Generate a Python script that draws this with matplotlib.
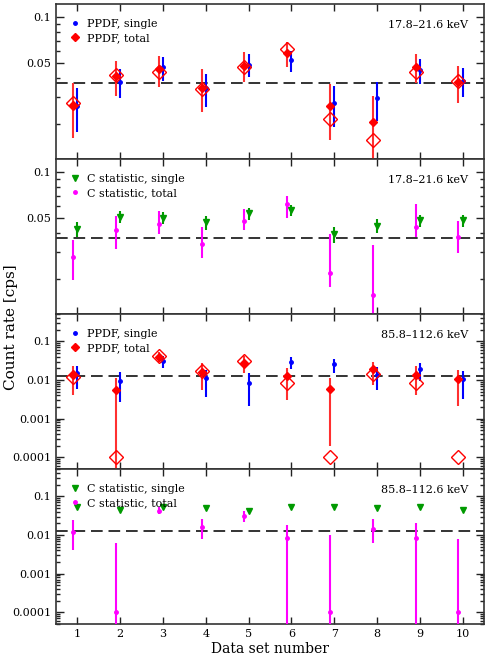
import numpy as np
import matplotlib
matplotlib.use('Agg')
import matplotlib.pyplot as plt
from matplotlib.lines import Line2D
from matplotlib.ticker import LogLocator, NullFormatter

plt.rcParams['font.family'] = ['DejaVu Serif', 'DejaVu Sans']

sets = np.arange(1, 11)

# 17.8-21.6 keV, PPDF
ppdf_single_lo = [0.0263, 0.0378, 0.0469, 0.0343, 0.0490, 0.0523, 0.0275, 0.0294, 0.0453, 0.0385]
ppdf_single_lo_min = [0.0177, 0.0295, 0.0384, 0.0258, 0.0405, 0.0440, 0.0190, 0.0208, 0.0368, 0.0300]
ppdf_single_lo_max = [0.0345, 0.0461, 0.0551, 0.0428, 0.0576, 0.0605, 0.0357, 0.0376, 0.0534, 0.0467]
ppdf_total_lo = [0.0267, 0.0411, 0.0455, 0.0345, 0.0481, 0.0585, 0.0261, 0.0207, 0.0474, 0.0379]
ppdf_total_lo_min = [0.0163, 0.0304, 0.0348, 0.0239, 0.0376, 0.0474, 0.0156, 0.0100, 0.0370, 0.0274]
ppdf_total_lo_max = [0.0372, 0.0519, 0.0561, 0.0455, 0.0588, 0.0686, 0.0363, 0.0306, 0.0578, 0.0481]
ppdf_open_lo = [0.0275, 0.0417, 0.0440, 0.0338, 0.0474, 0.0621, 0.0217, 0.0158, 0.0440, 0.0383]

# 17.8-21.6 keV, C statistic
cstat_single_lo = [0.0424, 0.0506, 0.0501, 0.0469, 0.0540, 0.0569, 0.0394, 0.0446, 0.0486, 0.0489]
cstat_single_lo_min = [0.0376, 0.0465, 0.0457, 0.0420, 0.0489, 0.0513, 0.0346, 0.0397, 0.0435, 0.0435]
cstat_single_lo_max = [0.0469, 0.0560, 0.0549, 0.0513, 0.0583, 0.0612, 0.0437, 0.0493, 0.0527, 0.0527]
cstat_total_lo = [0.0277, 0.0418, 0.0459, 0.0338, 0.0479, 0.0622, 0.0218, 0.0157, 0.0439, 0.0379]
cstat_total_lo_min = [0.0196, 0.0316, 0.0395, 0.0276, 0.0418, 0.0498, 0.0177, 0.0100, 0.0377, 0.0298]
cstat_total_lo_max = [0.0360, 0.0516, 0.0560, 0.0439, 0.0577, 0.0703, 0.0395, 0.0336, 0.0620, 0.0479]

# 85.8-112.6 keV, PPDF
ppdf_single_hi = [0.0149, 0.0092, 0.0304, 0.0113, 0.0085, 0.0298, 0.0260, 0.0135, 0.0189, 0.0104]
ppdf_single_hi_min = [0.0058, 0.00264, 0.0204, 0.00356, 0.00217, 0.0196, 0.0149, 0.0054, 0.0092, 0.0032]
ppdf_single_hi_max = [0.0235, 0.0158, 0.0410, 0.0185, 0.0152, 0.0394, 0.0356, 0.0221, 0.0280, 0.0174]
ppdf_total_hi = [0.0135, 0.0056, 0.0394, 0.0161, 0.0276, 0.0127, 0.0057, 0.0189, 0.0138, 0.0104]
ppdf_total_hi_min = [0.0041, 1e-5, 0.0286, 0.0056, 0.0149, 0.0031, 0.000196, 0.0076, 0.0040, 0.00217]
ppdf_total_hi_max = [0.0235, 0.0110, 0.0520, 0.0270, 0.0418, 0.0208, 0.0110, 0.0292, 0.0230, 0.0181]
ppdf_open_hi = [0.0117, 0.0001, 0.0418, 0.0168, 0.0304, 0.0082, 0.0001, 0.0143, 0.0082, 0.0001]

# 85.8-112.6 keV, C statistic
cstat_single_hi = [0.053, 0.0443, 0.054, 0.049, 0.0426, 0.054, 0.053, 0.0499, 0.053, 0.0443]
cstat_total_hi = [0.0122, 0.0001, 0.0426, 0.0164, 0.031, 0.0084, 0.0001, 0.0143, 0.0084, 0.0001]
cstat_total_hi_min = [0.0042, 1e-5, 0.0342, 0.008, 0.0221, 1e-5, 1e-5, 0.0062, 1e-5, 1e-5]
cstat_total_hi_max = [0.0244, 0.0061, 0.053, 0.0264, 0.0418, 0.0181, 0.0102, 0.0264, 0.0204, 0.008]

ref_lo = 0.037
ref_hi = 0.013
band_lo = "17.8\u201321.6 keV"
band_hi = "85.8\u2013112.6 keV"

BLUE = '#0000ff'
RED = '#ff0000'
MAG = '#ff00ff'
GREEN = '#009a00'


def yerr(val, lo, hi):
    val = np.array(val)
    return [val - np.array(lo), np.array(hi) - val]


def add_legend(ax, handles, labels):
    ax.legend(handles, labels, loc='upper left', frameon=False, fontsize=8,
              handlelength=0.8, handletextpad=0.6, labelspacing=0.38,
              borderaxespad=0.95)


def ppdf_panel(ax, single, s_min, s_max, total, t_min, t_max, opened):
    ax.errorbar(sets, single, yerr=yerr(single, s_min, s_max), fmt='o', ms=2.5,
                color=BLUE, ecolor=BLUE, elinewidth=1.5, capsize=0, zorder=3)
    ax.errorbar(sets - 0.1, total, yerr=yerr(total, t_min, t_max), fmt='D', ms=4.5,
                color=RED, ecolor='#ff3030', elinewidth=1.5, capsize=0, zorder=4)
    ax.plot(sets - 0.1, opened, 'D', ms=7, mfc='none', mec=RED, mew=1.0, zorder=5)
    handles = [Line2D([], [], ls='none', marker='o', ms=2.5, color=BLUE),
               Line2D([], [], ls='none', marker='D', ms=4.5, color=RED)]
    add_legend(ax, handles, ['PPDF, single', 'PPDF, total'])


def cstat_legend(ax):
    handles = [Line2D([], [], ls='none', marker='v', ms=5, color=GREEN),
               Line2D([], [], ls='none', marker='o', ms=2.5, color=MAG)]
    add_legend(ax, handles, ['C statistic, single', 'C statistic, total'])


fig = plt.figure(figsize=(4.91, 6.6), dpi=100)
axes = fig.subplots(4, 1, sharex=True)
fig.subplots_adjust(left=56 / 491, right=484 / 491, top=1 - 4 / 660,
                    bottom=1 - 624 / 660, hspace=0)

ax1, ax2, ax3, ax4 = axes

ppdf_panel(ax1, ppdf_single_lo, ppdf_single_lo_min, ppdf_single_lo_max,
           ppdf_total_lo, ppdf_total_lo_min, ppdf_total_lo_max, ppdf_open_lo)

ax2.errorbar(sets, cstat_single_lo, yerr=yerr(cstat_single_lo, cstat_single_lo_min, cstat_single_lo_max),
             fmt='v', ms=5, color=GREEN, ecolor=GREEN, elinewidth=1.5, capsize=0, zorder=3)
ax2.errorbar(sets - 0.1, cstat_total_lo, yerr=yerr(cstat_total_lo, cstat_total_lo_min, cstat_total_lo_max),
             fmt='o', ms=2.5, color=MAG, ecolor=MAG, elinewidth=1.5, capsize=0, zorder=4)
cstat_legend(ax2)

ppdf_panel(ax3, ppdf_single_hi, ppdf_single_hi_min, ppdf_single_hi_max,
           ppdf_total_hi, ppdf_total_hi_min, ppdf_total_hi_max, ppdf_open_hi)

ax4.plot(sets, cstat_single_hi, 'v', ms=5, color=GREEN, zorder=3)
ax4.errorbar(sets - 0.1, cstat_total_hi, yerr=yerr(cstat_total_hi, cstat_total_hi_min, cstat_total_hi_max),
             fmt='o', ms=2.5, color=MAG, ecolor=MAG, elinewidth=1.5, capsize=0, zorder=4)
cstat_legend(ax4)

for i, ax in enumerate(axes):
    ax.set_yscale('log')
    ax.set_xlim(0.5, 10.5)
    if i < 2:
        ax.set_ylim(0.0118, 0.122)
        ax.axhline(ref_lo, color='#111111', ls=(0, (7, 3.5)), lw=1.2, zorder=2)
        ax.set_yticks([0.05, 0.1], ['0.05', '0.1'])
        ax.yaxis.set_minor_locator(LogLocator(base=10, subs=np.arange(2, 10)))
        band = band_lo
    else:
        ax.set_ylim(5e-5, 0.51)
        ax.axhline(ref_hi, color='#111111', ls=(0, (7, 3.5)), lw=1.2, zorder=2)
        ax.set_yticks([0.0001, 0.001, 0.01, 0.1], ['0.0001', '0.001', '0.01', '0.1'])
        ax.yaxis.set_minor_locator(LogLocator(base=10, subs=np.arange(2, 10), numticks=20))
        band = band_hi
    ax.yaxis.set_minor_formatter(NullFormatter())
    ax.text(0.963, 0.865, band, transform=ax.transAxes, ha='right', va='center', fontsize=8)
    ax.tick_params(which='both', direction='in', top=True, right=True, labelsize=8,
                   width=1.0, color='#222222')
    ax.tick_params(which='major', length=6)
    ax.tick_params(which='minor', length=3)
    ax.tick_params(axis='x', which='major', length=5)
    for s in ax.spines.values():
        s.set_linewidth(1.2)
        s.set_color('#333333')

ax4.set_xticks(sets)
ax4.set_xlabel('Data set number', fontsize=10, labelpad=2)
fig.text(0.022, 0.505, 'Count rate [cps]', rotation=90, ha='center', va='center', fontsize=11)

fig.savefig('out.png', dpi=100)
